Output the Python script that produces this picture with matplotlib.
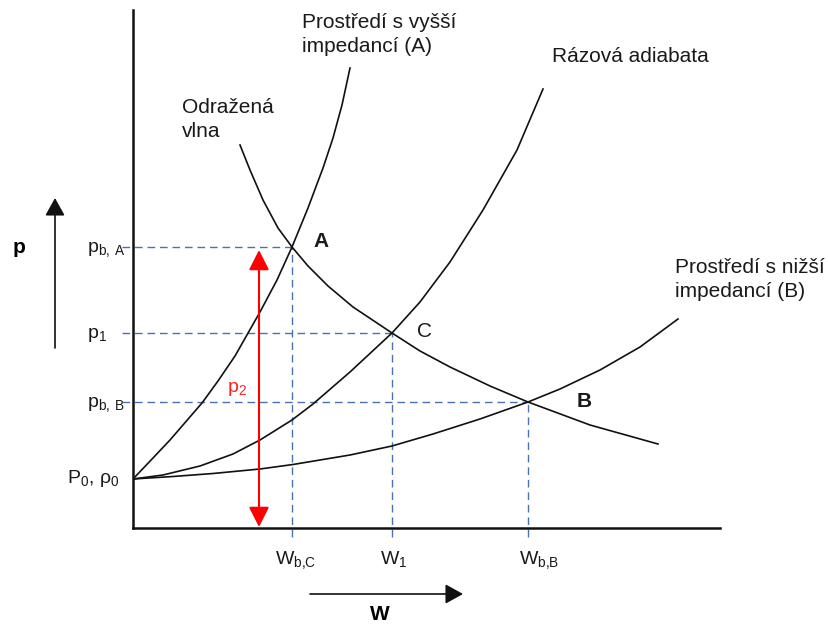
import matplotlib.pyplot as plt

plt.rcParams['font.family'] = ['Liberation Sans', 'DejaVu Sans']
plt.rcParams['mathtext.fontset'] = 'custom'
plt.rcParams['mathtext.rm'] = 'Liberation Sans'
plt.rcParams['mathtext.default'] = 'regular'

# curves (w, p) - schematic units
w_high = [0, 20, 37, 69, 85, 102, 127, 144, 159, 175, 190, 200, 209, 217]
p_high = [49, 70, 88, 125, 147, 172, 216, 248, 281, 320, 360, 390, 423, 460]

w_adiab = [0, 30, 67, 100, 127, 159, 180, 217, 259, 287, 317, 350, 384, 410]
p_adiab = [49, 53, 62, 74, 88, 108, 124, 156, 195, 226, 266, 318, 378, 439]

w_low = [0, 40, 80, 127, 160, 217, 259, 300, 347, 395, 427, 467, 507, 545]
p_low = [49, 51.5, 54.5, 59, 63.5, 73, 82, 94, 109, 126, 139, 158, 181, 209]

w_refl = [107, 117, 130, 145, 159, 175, 195, 220, 259, 287, 317, 357, 395, 457, 525]
p_refl = [383, 358, 328, 300, 281, 262, 242, 221, 195, 177, 161, 142, 126, 103, 84]

# marked states
pt_names = ['A', 'C', 'B']
pt_w = [159, 259, 395]
pt_p = [281, 195, 126]
p_labels = ['p$_{b,\\,A}$', 'p$_1$', 'p$_{b,\\,B}$']
w_labels = ['W$_{b{,}C}$', 'W$_1$', 'W$_{b{,}B}$']
p0 = 49

fig = plt.figure(figsize=(8.29, 6.25), dpi=100)
ax = fig.add_axes([133/829, 97/625, 587/829, 518/625])
ax.set_xlim(0, 587)
ax.set_ylim(0, 518)
for s in ['top', 'right']:
    ax.spines[s].set_visible(False)
for s in ['left', 'bottom']:
    ax.spines[s].set_linewidth(1.8)
    ax.spines[s].set_color('#111111')
ax.set_xticks([])
ax.set_yticks([])

dash = dict(color='#4a72b0', lw=1.0, dashes=(5.5, 3.5), clip_on=False)
for w, p in zip(pt_w, pt_p):
    ax.plot([-11, w], [p, p], **dash)
    ax.plot([w, w], [-9, p], **dash)

lc = '#111111'
ax.plot(w_high, p_high, color=lc, lw=1.2)
ax.plot(w_adiab, p_adiab, color=lc, lw=1.2)
ax.plot(w_low, p_low, color=lc, lw=1.2)
ax.plot(w_refl, p_refl, color=lc, lw=1.2)

# red p2 arrow
ax.annotate('', xy=(126, pt_p[0] - 3), xytext=(126, 1),
            arrowprops=dict(arrowstyle='<|-|>,head_length=0.87,head_width=0.44',
                            mutation_scale=14, color='#ff0000', lw=1.5,
                            shrinkA=0, shrinkB=0), annotation_clip=False)
ax.text(94, 136, 'p$_2$', color='#ff2020', fontsize=14, ha='left', va='baseline')

# p and W direction arrows
arr = dict(arrowstyle='-|>,head_length=0.72,head_width=0.4', mutation_scale=15,
           color='#111111', lw=1.2, shrinkA=0, shrinkB=0)
ax.annotate('', xy=(-78, 330), xytext=(-78, 180), arrowprops=arr, annotation_clip=False)
ax.annotate('', xy=(330, -66), xytext=(177, -66), arrowprops=arr, annotation_clip=False)
ax.text(-114, 275, 'p', fontsize=15, fontweight='bold', ha='center', va='baseline')
ax.text(247, -92, 'W', fontsize=15, fontweight='bold', ha='center', va='baseline')

tc = '#1a1a1a'
for lab, p in zip(p_labels, pt_p):
    ax.text(-46, p - 5, lab, fontsize=14, color=tc, ha='left', va='baseline')
ax.text(-66, p0 - 4, 'P$_0$, ρ$_0$', fontsize=14, color=tc, ha='left', va='baseline')
for lab, w, dx in zip(w_labels, pt_w, [3.5, 1.5, 11]):
    ax.text(w + dx, -36, lab, fontsize=14, color=tc, ha='center', va='baseline')

for name, w, p, dx, dy, bold in zip(pt_names, pt_w, pt_p, [21, 25, 49], [0, -4, -5],
                                    [True, False, True]):
    ax.text(w + dx, p + dy, name, fontsize=15, color=tc, ha='left', va='baseline',
            fontweight='bold' if bold else 'normal')

ax.text(169, 515, 'Prostředí s vyšší\nimpedancí (A)', fontsize=15, color=tc,
        ha='left', va='top', linespacing=1.36)
ax.text(419, 481, 'Rázová adiabata', fontsize=15, color=tc, ha='left', va='top')
ax.text(49, 430, 'Odražená\nvlna', fontsize=15, color=tc, ha='left', va='top',
        linespacing=1.36)
ax.text(542, 270, 'Prostředí s nižší\nimpedancí (B)', fontsize=15, color=tc,
        ha='left', va='top', linespacing=1.36)

fig.savefig('out.png', dpi=100)
